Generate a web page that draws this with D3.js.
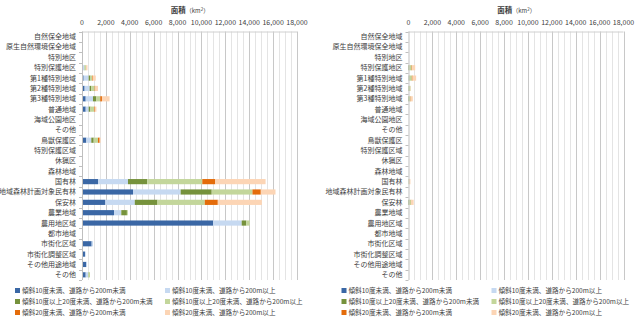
<!DOCTYPE html>
<html>
<head>
<meta charset="utf-8">
<script src="https://cdn.jsdelivr.net/npm/d3@7"></script>
<style>
  body { margin: 0; background: #fff; }
  text { font-family: "Noto Sans CJK JP", "Noto Sans", sans-serif; fill: #404040; }
</style>
</head>
<body>
<div id="chart"></div>
<script>
//-- Data --//
var categories = ["自然保全地域", "原生自然環境保全地域", "特別地区", "特別保護地区", "第1種特別地域",
  "第2種特別地域", "第3種特別地域", "普通地域", "海域公園地区", "その他", "鳥獣保護区", "特別保護区域",
  "休猟区", "森林地域", "国有林", "地域森林計画対象民有林", "保安林", "農業地域", "農用地区域",
  "都市地域", "市街化区域", "市街化調整区域", "その他用途地域", "その他"];

var seriesNames = ["傾斜10度未満、道路から200m未満", "傾斜10度未満、道路から200m以上",
  "傾斜10度以上20度未満、道路から200m未満", "傾斜10度以上20度未満、道路から200m以上",
  "傾斜20度未満、道路から200m未満", "傾斜20度未満、道路から200m以上"];

var xTicks = [0, 2000, 4000, 6000, 8000, 10000, 12000, 14000, 16000, 18000];

// left chart, one array per series (km2)
var left1 = [0,0,0,0,140,220,310,310,0,0,360,10,0,10,1340,4270,1960,2680,10970,40,810,250,360,310];
var left2 = [0,0,0,200,420,420,610,250,0,0,420,10,0,10,2510,3990,2460,610,2400,10,110,60,60,200];
var left3 = [0,0,0,20,140,140,280,140,0,0,200,0,0,0,1620,2600,1900,470,390,0,0,0,0,20];
var left4 = [0,0,0,110,140,280,330,310,0,0,360,0,0,0,4600,3410,3960,80,280,0,0,0,0,140];
var left5 = [0,0,0,0,60,60,140,60,0,0,140,0,0,0,1090,700,1090,0,0,0,0,0,0,0];
var left6 = [0,0,0,130,250,220,640,140,0,0,80,0,0,0,4210,1230,3690,0,0,0,0,0,0,0];

// right chart
var right1 = [0,0,0,0,0,0,0,0,0,0,0,0,0,0,0,0,0,0,0,0,0,0,0,0];
var right2 = [0,0,0,0,20,0,0,0,0,0,0,0,0,0,0,0,0,0,0,0,0,0,0,0];
var right3 = [0,0,0,60,60,30,40,0,0,0,0,0,0,0,0,0,50,0,0,0,0,0,0,0];
var right4 = [0,0,0,200,200,140,120,0,0,0,0,0,0,0,40,0,150,0,0,0,0,0,0,0];
var right5 = [0,0,0,40,60,0,30,0,0,0,0,0,0,0,20,0,30,0,0,0,0,0,0,0];
var right6 = [0,0,0,260,300,30,170,0,0,0,0,0,0,0,100,0,200,0,0,0,0,0,0,0];

var colors = ["#3a67a5", "#c6d9f1", "#76923c", "#c3d69b", "#e46c0a", "#fcd5b5"];

//-- SVG --//
var svg = d3.select("#chart").append("svg")
  .attr("width", 641)
  .attr("height", 328);

function drawChart(offsetX, series) {
  var x0 = offsetX + 82, x1 = offsetX + 297, top = 31.5, bottom = 280;

  var g = svg.append("g");

  // rows for stacking (index kept because "その他" appears twice)
  var rows = categories.map(function(c, i) {
    var r = {idx: i, cat: c};
    series.forEach(function(s, k) { r["s" + k] = s[i]; });
    return r;
  });
  var keys = series.map(function(s, k) { return "s" + k; });
  var stacked = d3.stack().keys(keys)(rows);

  //-- Scales --//
  var xScale = d3.scaleLinear().domain([0, 18000]).range([x0, x1]),
      yScale = d3.scaleBand().domain(d3.range(categories.length)).range([top, bottom]).paddingInner(0.5).paddingOuter(0.25);

  // minor + major gridlines
  g.append("g").selectAll("line")
    .data(d3.range(500, 18001, 500))
    .enter().append("line")
    .attr("x1", function(d) { return Math.round(xScale(d)) + 0.5; })
    .attr("x2", function(d) { return Math.round(xScale(d)) + 0.5; })
    .attr("y1", top).attr("y2", bottom)
    .attr("stroke", function(d) { return d % 2000 == 0 ? "#c8c8c8" : "#e4e4e4"; })
    .attr("stroke-width", 1);

  // top value axis line
  g.append("line")
    .attr("x1", x0).attr("x2", x1)
    .attr("y1", top + 0.5).attr("y2", top + 0.5)
    .attr("stroke", "#d0d0d0");

  // bars
  g.append("g").selectAll("g")
    .data(stacked)
    .enter().append("g")
    .attr("fill", function(d, i) { return colors[i]; })
    .selectAll("rect")
    .data(function(d) { return d; })
    .enter().append("rect")
    .attr("x", function(d) { return xScale(d[0]); })
    .attr("width", function(d) { return xScale(d[1]) - xScale(d[0]); })
    .attr("y", function(d) { return yScale(d.data.idx); })
    .attr("height", yScale.bandwidth());

  // category axis
  g.append("line")
    .attr("x1", x0 + 0.5).attr("x2", x0 + 0.5)
    .attr("y1", top).attr("y2", bottom)
    .attr("stroke", "#bfbfbf");
  g.append("g").selectAll("line")
    .data(d3.range(categories.length + 1))
    .enter().append("line")
    .attr("x1", x0 - 3).attr("x2", x0)
    .attr("y1", function(d) { return Math.round(top + d * (bottom - top) / categories.length) + 0.5; })
    .attr("y2", function(d) { return Math.round(top + d * (bottom - top) / categories.length) + 0.5; })
    .attr("stroke", "#bfbfbf");

  g.append("g").selectAll("text")
    .data(categories)
    .enter().append("text")
    .attr("x", x0 - 6)
    .attr("y", function(d, i) { return yScale(i) + yScale.bandwidth() / 2; })
    .attr("dy", "0.35em")
    .attr("text-anchor", "end")
    .style("font-size", "7px")
    .text(function(d) { return d; });

  // tick labels
  g.append("g").selectAll("text")
    .data(xTicks)
    .enter().append("text")
    .attr("x", function(d) { return xScale(d); })
    .attr("y", 25)
    .attr("text-anchor", "middle")
    .style("font-size", "7px")
    .text(function(d) { return d3.format(",")(d); });

  // title
  var title = g.append("text")
    .attr("x", offsetX + 190)
    .attr("y", 13)
    .attr("text-anchor", "middle")
    .style("font-size", "7.5px")
    .style("font-weight", "bold");
  title.append("tspan").text("面積");
  title.append("tspan").style("font-weight", "normal").style("font-size", "6px").text("（km");
  title.append("tspan").style("font-weight", "normal").style("font-size", "4.5px").attr("dy", -2.5).text("2");
  title.append("tspan").style("font-weight", "normal").style("font-size", "6px").attr("dy", 2.5).text("）");

  //-- Legend --//
  var legend = g.append("g").selectAll("g")
    .data(seriesNames)
    .enter().append("g")
    .attr("transform", function(d, i) {
      var lx = offsetX + (i % 2 == 0 ? 15 : 165),
          ly = 290.5 + Math.floor(i / 2) * 11;
      return "translate(" + lx + "," + ly + ")";
    });
  legend.append("rect")
    .attr("x", 0).attr("y", -2.5)
    .attr("width", 5).attr("height", 5)
    .attr("fill", function(d, i) { return colors[i]; });
  legend.append("text")
    .attr("x", 7)
    .attr("y", 0)
    .attr("dy", "0.35em")
    .style("font-size", "6.6px")
    .text(function(d) { return d; });
}

drawChart(0, [left1, left2, left3, left4, left5, left6]);
drawChart(326.5, [right1, right2, right3, right4, right5, right6]);
</script>
</body>
</html>
